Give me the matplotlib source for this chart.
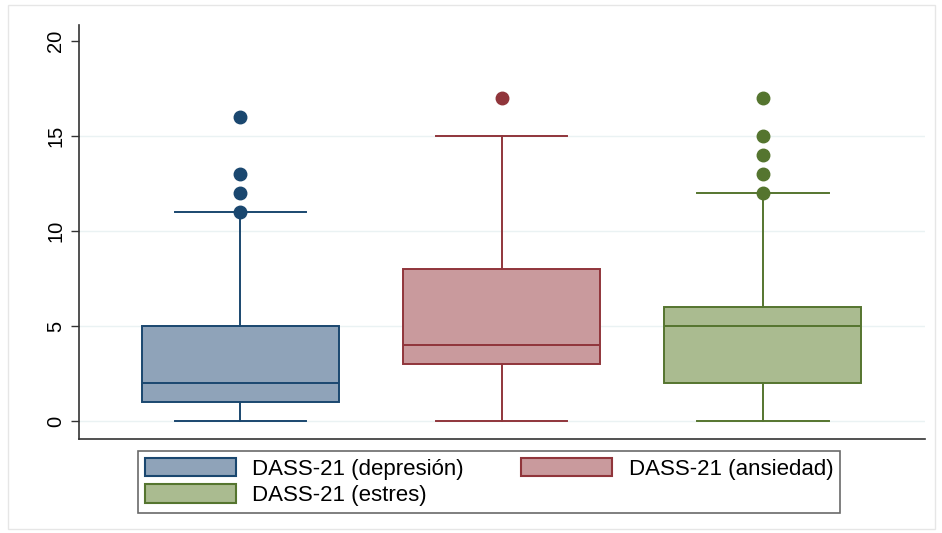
import matplotlib
matplotlib.use("Agg")
import matplotlib.pyplot as plt
from matplotlib.patches import Patch, Rectangle

plt.rcParams['font.family'] = ['Liberation Sans', 'DejaVu Sans']

labels = ["DASS-21 (depresión)", "DASS-21 (ansiedad)", "DASS-21 (estres)"]
whislo = [0, 0, 0]
q1 = [1, 3, 2]
med = [2, 4, 5]
q3 = [5, 8, 6]
whishi = [11, 15, 12]
fliers = [[11, 12, 13, 16], [17], [12, 13, 14, 15, 17]]
yticks = [0, 5, 10, 15, 20]
grid_vals = [0, 5, 10, 15]

edge_colors = ["#1a476f", "#90353b", "#55752f"]
fill_colors = ["#8fa3b9", "#c99a9d", "#aabb90"]

fig = plt.figure(figsize=(9.42, 5.33), dpi=100)
fig.patches.append(Rectangle((0.009, 0.008), 0.984, 0.983, transform=fig.transFigure,
                             fill=False, edgecolor="#e6e6e6", linewidth=1.0))
ax = fig.add_axes([0.0839, 0.176, 0.898, 0.777])

for gv in grid_vals:
    ax.axhline(gv, color="#eaf2f3", linewidth=1.0, zorder=0)

for i in range(3):
    stats = [dict(whislo=whislo[i], q1=q1[i], med=med[i], q3=q3[i], whishi=whishi[i],
                  fliers=fliers[i], label=labels[i])]
    ec = edge_colors[i]
    ax.bxp(stats, positions=[i + 1], widths=0.754, patch_artist=True, showfliers=True,
           boxprops=dict(facecolor=fill_colors[i], edgecolor=ec, linewidth=1.4),
           medianprops=dict(color=ec, linewidth=1.4),
           whiskerprops=dict(color=ec, linewidth=1.4),
           capprops=dict(color=ec, linewidth=1.4),
           capwidths=0.503,
           flierprops=dict(marker='o', markerfacecolor=ec, markeredgecolor=ec, markersize=9),
           manage_ticks=False)

ax.set_xlim(0.383, 3.62)
ax.set_ylim(-0.95, 20.84)
ax.set_xticks([])
ax.set_yticks(yticks)
ax.set_yticklabels([str(v) for v in yticks], rotation=90, va='center', fontsize=14.5)
ax.tick_params(axis='y', length=6, width=1, color="#333333", pad=4)
for s in ["top", "right"]:
    ax.spines[s].set_visible(False)
for s in ["left", "bottom"]:
    ax.spines[s].set_color("#333333")
    ax.spines[s].set_linewidth(1.2)

handles = [Patch(facecolor=fill_colors[i], edgecolor=edge_colors[i], linewidth=1.5) for i in range(3)]
order = [0, 2, 1]
leg = fig.legend([handles[i] for i in order], [labels[i] for i in order],
                 loc='lower left', bbox_to_anchor=(0.1465, 0.0375, 0.745, 0.12),
                 mode='expand', ncol=2, fontsize=16, frameon=True, fancybox=False,
                 handlelength=4.1, handleheight=0.9, borderaxespad=0, handletextpad=0.75,
                 labelspacing=0.22, borderpad=0.3)
leg.get_frame().set_edgecolor("#444444")
leg.get_frame().set_linewidth(1.2)

fig.savefig("out.png", dpi=100)
